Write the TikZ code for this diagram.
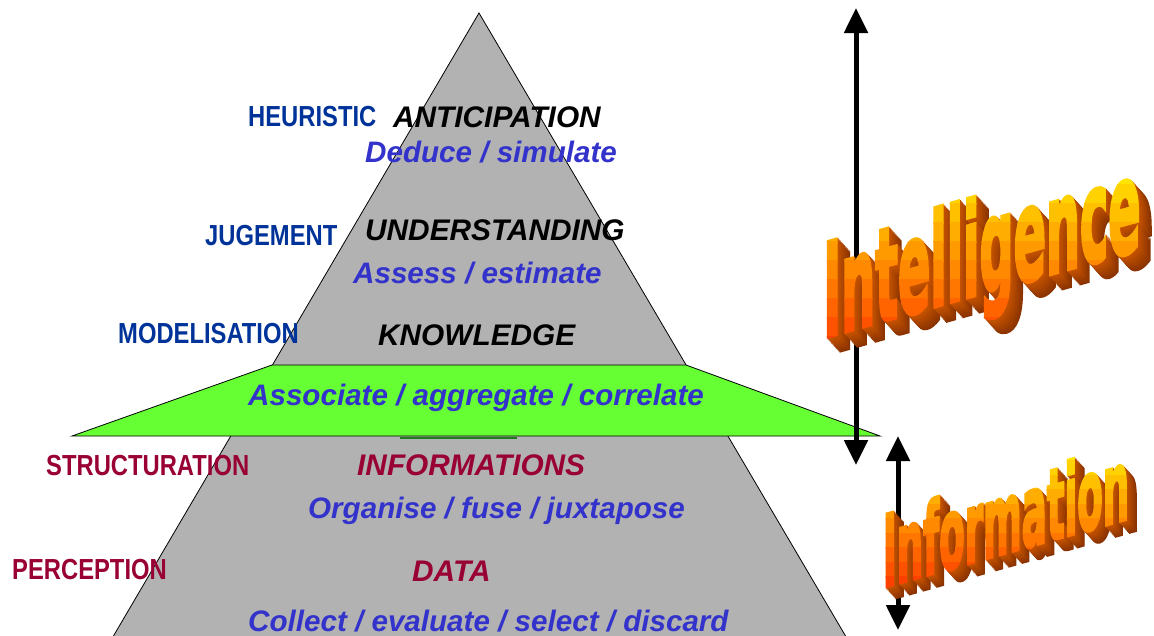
\documentclass[tikz,border=0pt]{standalone}
\usepackage{fontspec}
\setmainfont{Liberation Sans}
\newfontfamily\wafont{DejaVu Sans}[FakeBold=3.5]
\usetikzlibrary{arrows.meta}
\definecolor{pyrgray}{HTML}{B2B2B2}
\definecolor{lgreen}{HTML}{66FF33}
\definecolor{dgreen}{HTML}{1E7B1E}
\definecolor{lvlblue}{HTML}{003399}
\definecolor{actblue}{HTML}{3333CC}
\definecolor{crim}{HTML}{990033}
\definecolor{waTop}{HTML}{FFE400}
\definecolor{waBot}{HTML}{FF4000}
\definecolor{waSide}{HTML}{C85400}
\definecolor{waSideDark}{HTML}{8A3300}
\tikzset{
  waintel/.style={inner sep=0pt, yslant=0.28, xscale=0.37, transform shape, font=\wafont\bfseries\fontsize{129}{129}\selectfont},
  wainfo/.style={inner sep=0pt, yslant=0.28, xscale=0.375, transform shape, font=\wafont\bfseries\fontsize{99}{99}\selectfont},
  lvl/.style={anchor=base west, inner sep=0pt, font=\fontsize{29}{29}\selectfont\bfseries},
  act/.style={anchor=base west, inner sep=0pt, text=actblue, font=\fontsize{29.6}{30}\selectfont\bfseries\itshape},
  stage/.style={anchor=base west, inner sep=0pt, font=\fontsize{29.8}{30}\selectfont\bfseries\itshape},
  dblarrow/.style={line width=5pt, {Triangle[length=25pt,width=23pt]}-{Triangle[length=25pt,width=23pt]}},
}
\begin{document}
\begin{tikzpicture}[x=1pt,y=-1pt]
\useasboundingbox (0,0) rectangle (1154,635);
% pyramid
\coordinate (apex) at (479,13);
\coordinate (pbl) at (110.5,641);
\coordinate (pbr) at (848.5,641);
\draw[fill=pyrgray, line width=0.8pt] (pbl) -- (apex) -- (pbr);
% green band
\coordinate (gtl) at (272,365);
\coordinate (gtr) at (686,365);
\coordinate (gbr) at (880,436);
\coordinate (gbl) at (72,436);
\draw[fill=lgreen, line width=0.8pt] (gtl) -- (gtr) -- (gbr) -- (gbl) -- cycle;
\coordinate (dgl) at (400,438);
\coordinate (dgr) at (517,438);
\draw[dgreen, line width=2.2pt] (dgl) -- (dgr);
% texts
\node[lvl, text=lvlblue] (heur) at (248,126) {\scalebox{0.82}[1]{HEURISTIC}};
\node[stage, text=black] (antic) at (393,127) {ANTICIPATION};
\node[act] (deduce) at (365,162) {Deduce / simulate};
\node[lvl, text=lvlblue] (jug) at (205,245) {\scalebox{0.82}[1]{JUGEMENT}};
\node[stage, text=black] (under) at (365,240) {UNDERSTANDING};
\node[act] (assess) at (353,283) {Assess / estimate};
\node[lvl, text=lvlblue] (model) at (118,343) {\scalebox{0.82}[1]{MODELISATION}};
\node[stage, text=black] (know) at (378,345) {KNOWLEDGE};
\node[act] (assoc) at (248,405) {Associate / aggregate / correlate};
\node[lvl, text=crim] (struct) at (46,475) {\scalebox{0.82}[1]{STRUCTURATION}};
\node[stage, text=crim] (inform) at (357,475) {INFORMATIONS};
\node[act] (organise) at (308,518) {Organise / fuse / juxtapose};
\node[lvl, text=crim] (percept) at (12,579) {\scalebox{0.82}[1]{PERCEPTION}};
\node[stage, text=crim] (data) at (412,581) {DATA};
\node[act] (collect) at (248,631) {Collect / evaluate / select / discard};
% arrows
\coordinate (a1t) at (856,8);
\coordinate (a1b) at (856,465);
\coordinate (a2t) at (898,436);
\coordinate (a2b) at (898,630);
\draw[dblarrow] (a1t) -- (a1b);
\draw[dblarrow] (a2t) -- (a2b);
% WordArt Intelligence: extrusion
\foreach \k [evaluate=\k as \kk using 100*\k/14] in {14,13,...,1}
  \node[waintel, text=waSideDark!\kk!waSide] (intsh\k) at (982+0.9*\k,258+\k) {Intelligence};
% face with vertical gradient (clipped bands)
\foreach \i [evaluate=\i as \pc using 100*\i/9, evaluate=\i as \ya using 165+19*\i, evaluate=\i as \yb using 185+19*\i] in {0,...,9} {
  \begin{scope}
    \clip (800,\ya) rectangle (1154,\yb);
    \node[waintel, text=waBot!\pc!waTop] (intf\i) at (982,258) {Intelligence};
  \end{scope}
}
% WordArt Information: extrusion
\foreach \k [evaluate=\k as \kk using 100*\k/11] in {11,10,...,1}
  \node[wainfo, text=waSideDark!\kk!waSide] (infsh\k) at (1006+0.9*\k,516+\k) {Information};
\foreach \i [evaluate=\i as \pc using 100*\i/9, evaluate=\i as \ya using 446+14.5*\i, evaluate=\i as \yb using 461+14.5*\i] in {0,...,9} {
  \begin{scope}
    \clip (860,\ya) rectangle (1154,\yb);
    \node[wainfo, text=waBot!\pc!waTop] (inff\i) at (1006,516) {Information};
  \end{scope}
}
\end{tikzpicture}
\end{document}
